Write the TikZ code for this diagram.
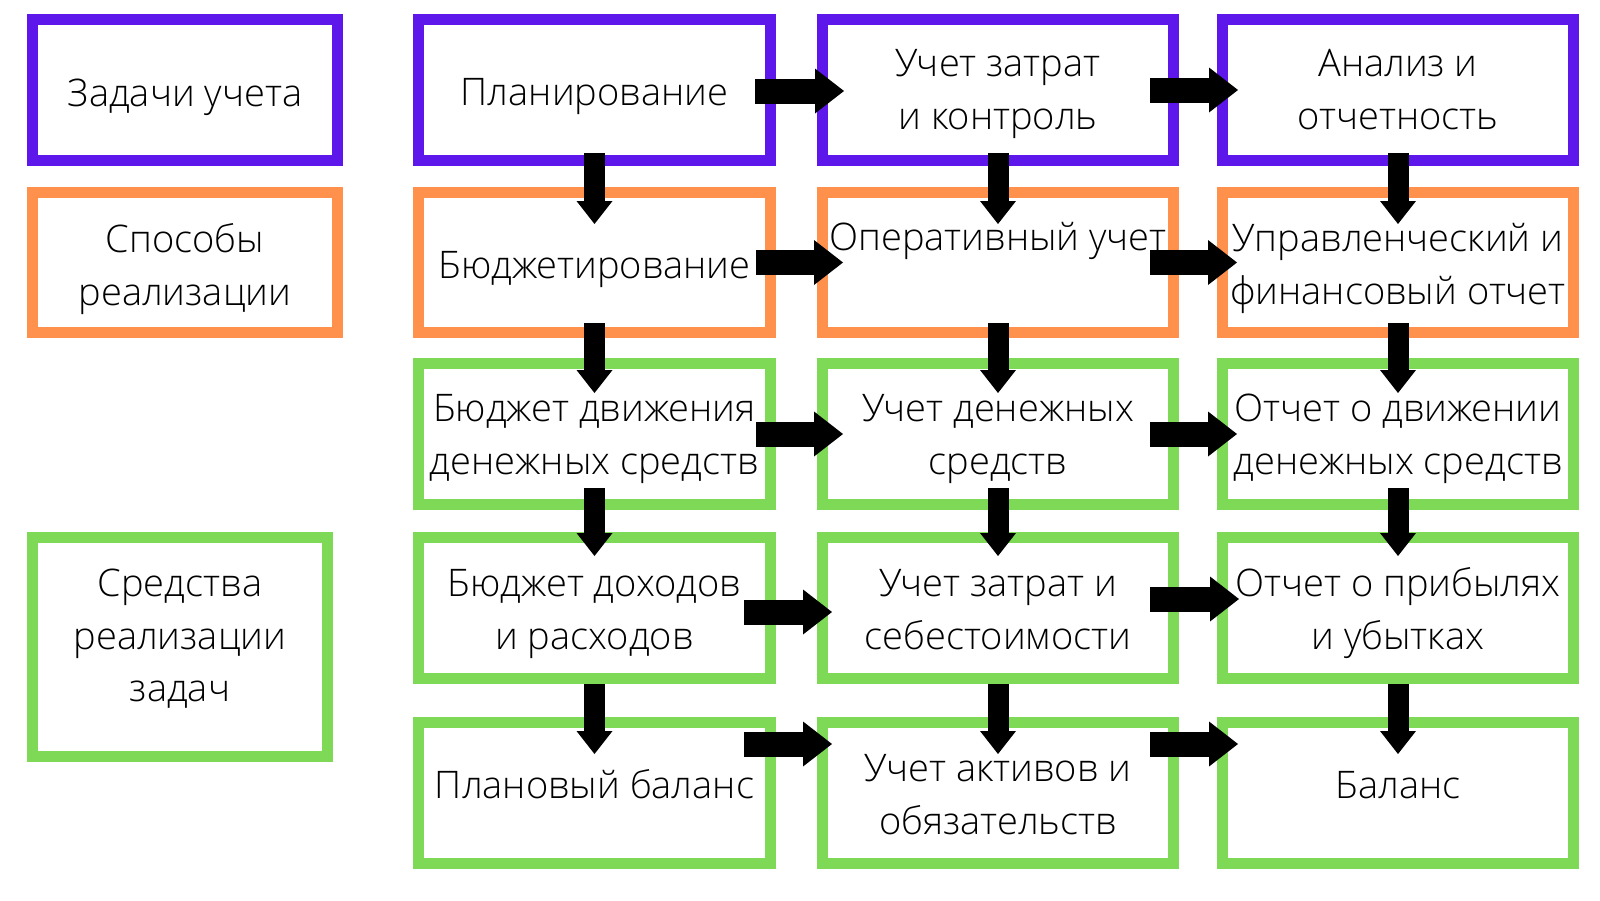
\documentclass[tikz,border=0pt]{standalone}
\usepackage{fontspec}
\setmainfont{Open Sans Light}
\usetikzlibrary{arrows.meta,calc}
\definecolor{cpur}{HTML}{5E17EB}
\definecolor{corg}{HTML}{FF914D}
\definecolor{cgrn}{HTML}{7ED957}
\newcommand\tophs{\rule{0pt}{32pt}}
\newcommand\botds{\rule[-10pt]{0pt}{10pt}}
\begin{document}
\begin{tikzpicture}[x=1pt,y=-1pt,
  box/.style={rectangle,line width=11pt,inner sep=0pt,minimum height=141pt},
  pbox/.style={box,draw=cpur},
  obox/.style={box,draw=corg,minimum height=140pt},
  gbox/.style={box,draw=cgrn},
  colw/.style={minimum width=351pt},
  txt/.style={inner sep=0pt,align=center,font=\fontsize{38}{52.5}\selectfont},
  harr/.style={line width=25pt,-{Triangle[width=45pt,length=29pt,line width=0pt]}},
  varr/.style={line width=21pt,-{Triangle[width=36pt,length=23pt,line width=0pt]}}]
\fill[white] (0,0) rectangle (1600,900);
\useasboundingbox (0,0) rectangle (1600,900);
% left column
\node[pbox,minimum width=305pt] (t0) at (185,90) {};
\node[obox,minimum width=305pt] (s0) at (185,262.5) {};
\node[gbox,minimum width=295pt,minimum height=219pt] (m0) at (180,647) {};
% row 1
\node[pbox,minimum width=352pt] (p1) at (594.5,90) {};
\node[pbox,colw] (z1) at (998,90) {};
\node[pbox,colw] (a1) at (1398,90) {};
% row 2
\node[obox,minimum width=352pt] (p2) at (594.5,262.5) {};
\node[obox,colw] (z2) at (998,262.5) {};
\node[obox,colw] (a2) at (1398,262.5) {};
% row 3
\node[gbox,minimum width=352pt] (p3) at (594.5,434) {};
\node[gbox,colw] (z3) at (998,434) {};
\node[gbox,colw] (a3) at (1398,434) {};
% row 4
\node[gbox,minimum width=352pt] (p4) at (594.5,608) {};
\node[gbox,colw] (z4) at (998,608) {};
\node[gbox,colw] (a4) at (1398,608) {};
% row 5
\node[gbox,minimum width=352pt] (p5) at (594.5,793) {};
\node[gbox,colw] (z5) at (998,793) {};
\node[gbox,colw] (a5) at (1398,793) {};
% texts
\node[txt] (t0x) at ($(t0.center)+(0,5)$) {\tophs Задачи учета\botds};
\node[txt] (s0x) at ($(s0.center)+(0,5.5)$) {\tophs Способы\\реализации\botds};
\node[txt] (m0x) at ($(m0.center)+(0,-9)$) {\tophs Средства\\реализации\\задач\botds};
\node[txt] (p1x) at ($(p1.center)+(0,4)$) {\tophs Планирование\botds};
\node[txt] (z1x) at ($(z1.center)+(0,2)$) {\tophs Учет затрат\\и контроль\botds};
\node[txt] (a1x) at ($(a1.center)+(0,2)$) {\tophs Анализ и\\отчетность\botds};
\node[txt] (p2x) at ($(p2.center)+(0,4.5)$) {\tophs Бюджетирование\botds};
\node[txt] (z2x) at ($(z2.center)+(0,-23.5)$) {\tophs Оперативный учет\botds};
\node[txt] (a2x) at ($(a2.center)+(0,4.5)$) {\tophs Управленческий и\\финансовый отчет\botds};
\node[txt] (p3x) at ($(p3.center)+(0,3)$) {\tophs Бюджет движения\\денежных средств\botds};
\node[txt] (z3x) at ($(z3.center)+(0,3)$) {\tophs Учет денежных\\средств\botds};
\node[txt] (a3x) at ($(a3.center)+(0,3)$) {\tophs Отчет о движении\\денежных средств\botds};
\node[txt] (p4x) at ($(p4.center)+(0,4)$) {\tophs Бюджет доходов\\и расходов\botds};
\node[txt] (z4x) at ($(z4.center)+(0,4)$) {\tophs Учет затрат и\\себестоимости\botds};
\node[txt] (a4x) at ($(a4.center)+(0,4)$) {\tophs Отчет о прибылях\\и убытках\botds};
\node[txt] (p5x) at ($(p5.center)+(0,-6)$) {\tophs Плановый баланс\botds};
\node[txt] (z5x) at ($(z5.center)+(0,4)$) {\tophs Учет активов и\\обязательств\botds};
\node[txt] (a5x) at ($(a5.center)+(0,-6)$) {\tophs Баланс\botds};
% horizontal arrows
\draw[harr] ($(p1.east)+(-21,1)$) -- ($(z1.west)+(27,1)$);
\draw[harr] ($(z1.east)+(-29,0)$) -- ($(a1.west)+(21,0)$);
\draw[harr] ($(p2.east)+(-20,0)$) -- ($(z2.west)+(26,0)$);
\draw[harr] ($(z2.east)+(-29,0)$) -- ($(a2.west)+(20,0)$);
\draw[harr] ($(p3.east)+(-20,0)$) -- ($(z3.west)+(26,0)$);
\draw[harr] ($(z3.east)+(-29,0)$) -- ($(a3.west)+(20,0)$);
\draw[harr] ($(p4.east)+(-32,4)$) -- ($(z4.west)+(15,4)$);
\draw[harr] ($(z4.east)+(-29,-9)$) -- ($(a4.west)+(22,-9)$);
\draw[harr] ($(p5.east)+(-32,-49)$) -- ($(z5.west)+(15,-49)$);
\draw[harr] ($(z5.east)+(-29,-49)$) -- ($(a5.west)+(21,-49)$);
% vertical arrows
\foreach \c in {p,z,a}{
  \draw[varr] ($(\c1.south)+(0,-13)$) -- ($(\c2.north)+(0,37)$);
  \draw[varr] ($(\c2.south)+(0,-15)$) -- ($(\c3.north)+(0,35)$);
  \draw[varr] ($(\c3.south)+(0,-22)$) -- ($(\c4.north)+(0,24)$);
  \draw[varr] ($(\c4.south)+(0,0)$) -- ($(\c5.north)+(0,37)$);
}
\end{tikzpicture}
\end{document}
